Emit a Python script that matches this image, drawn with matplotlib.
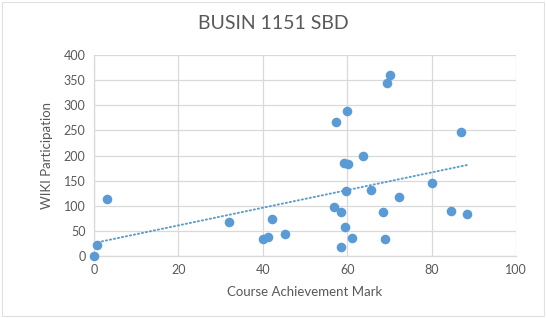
import numpy as np
import matplotlib
matplotlib.use("Agg")
import matplotlib.pyplot as plt

# course mark vs wiki participation
course_mark = [0.0, 0.7, 3.2, 32.0, 40.0, 41.2, 42.2, 45.3, 56.8, 57.4,
               58.5, 58.6, 59.3, 60.2, 59.7, 59.6, 60.0, 61.1, 63.7, 65.7,
               68.5, 69.0, 69.5, 70.1, 72.3, 80.0, 84.6, 87.0, 88.4]
wiki_participation = [0, 21, 113, 68, 34, 38, 74, 44, 98, 266,
                      88, 18, 186, 183, 130, 57, 288, 36, 200, 132,
                      87, 34, 345, 361, 118, 145, 89, 246, 84]

x_ticks = [0, 20, 40, 60, 80, 100]
y_ticks = [0, 50, 100, 150, 200, 250, 300, 350, 400]

BLUE = "#5B9BD5"
TEXT = "#595959"
GRID = "#D9D9D9"

plt.rcParams["font.family"] = ["Lato", "DejaVu Sans"]

fig = plt.figure(figsize=(5.46, 3.18), dpi=100)
ax = fig.add_axes([0.172, 0.195, 0.773, 0.632])

x = np.array(course_mark)
y = np.array(wiki_participation)

ax.scatter(x, y, s=48, color=BLUE, zorder=3, linewidths=0, clip_on=False)

# linear trendline over the data range
slope, intercept = np.polyfit(x, y, 1)
xs = np.array([x.min(), x.max()])
ax.plot(xs, slope * xs + intercept, color=BLUE, lw=1.4, ls=(0, (0.6, 1.5)),
        dash_capstyle="round", zorder=2)

ax.set_xlim(0, 100)
ax.set_ylim(0, 400)
ax.set_xticks(x_ticks)
ax.set_yticks(y_ticks)
ax.grid(True, color=GRID, lw=0.9)
ax.set_axisbelow(True)
for side in ["top", "right"]:
    ax.spines[side].set_visible(False)
for side in ["left", "bottom"]:
    ax.spines[side].set_color(GRID)
    ax.spines[side].set_linewidth(0.9)
ax.tick_params(length=0, colors=TEXT, labelsize=9, pad=6)

ax.set_xlabel("Course Achievement Mark", color=TEXT, fontsize=9.5, labelpad=7)
ax.set_ylabel("WIKI Participation", color=TEXT, fontsize=9.5, labelpad=8)
fig.text(0.5, 0.925, "BUSIN 1151 SBD", ha="center", va="center",
         color=TEXT, fontsize=14)

# light chart-area border
fig.patches.append(plt.Rectangle((0.003, 0.005), 0.994, 0.99, transform=fig.transFigure,
                                 fill=False, edgecolor="#E0E0E0", lw=0.8))

fig.savefig("out.png", dpi=100)
